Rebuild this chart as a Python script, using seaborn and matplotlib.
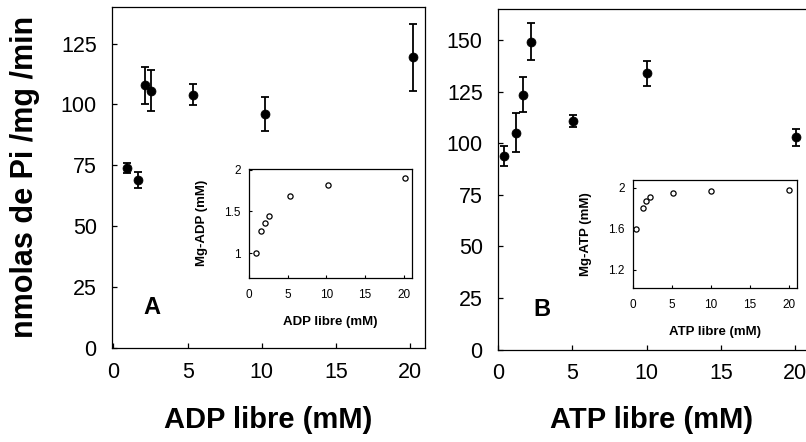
import matplotlib
matplotlib.use("Agg")
import matplotlib.pyplot as plt
import seaborn as sns
import pandas as pd

# ---- data ----
adp_x = [0.9, 1.68, 2.12, 2.54, 5.34, 10.19, 20.2]
adp_y = [73.9, 68.9, 107.8, 105.7, 104.0, 95.9, 119.4]
adp_err = [2.2, 3.2, 7.5, 8.3, 4.2, 7.0, 13.8]

atp_x = [0.42, 1.21, 1.66, 2.22, 5.07, 10.05, 20.07]
atp_y = [93.7, 105.0, 123.4, 149.2, 110.9, 133.8, 102.8]
atp_err = [4.8, 9.5, 8.5, 9.0, 2.9, 5.9, 4.2]

ins_adp_x = [0.94, 1.59, 2.02, 2.54, 5.34, 10.17, 20.2]
ins_adp_y = [1.00, 1.27, 1.36, 1.445, 1.68, 1.82, 1.90]

ins_atp_x = [0.39, 1.25, 1.67, 2.19, 5.1, 10.04, 20.0]
ins_atp_y = [1.60, 1.80, 1.875, 1.905, 1.95, 1.97, 1.98]

main_xticks = [0, 5, 10, 15, 20]
adp_yticks = [0, 25, 50, 75, 100, 125]
atp_yticks = [0, 25, 50, 75, 100, 125, 150]
ins_adp_yticks = [1, 1.5, 2]
ins_adp_yticklabels = ["1", "1.5", "2"]
ins_atp_yticks = [1.2, 1.6, 2.0]
ins_atp_yticklabels = ["1.2", "1.6", "2"]

ylabel_main = "nmolas de Pi /mg /min"
xlabel_a = "ADP libre (mM)"
xlabel_b = "ATP libre (mM)"
ins_ylabel_a = "Mg-ADP (mM)"
ins_ylabel_b = "Mg-ATP (mM)"
panel_a = "A"
panel_b = "B"

sns.set_style("ticks")
plt.rcParams["font.family"] = ["Liberation Sans", "DejaVu Sans"]
plt.rcParams["axes.linewidth"] = 0.9
plt.rcParams["text.color"] = "black"
plt.rcParams["axes.labelcolor"] = "black"
plt.rcParams["xtick.color"] = "black"
plt.rcParams["ytick.color"] = "black"

W, H = 806, 442
fig = plt.figure(figsize=(W / 100, H / 100), dpi=100)


def rect(l, r, t, b):
    return [l / W, 1 - b / H, (r - l) / W, (b - t) / H]


axA = fig.add_axes(rect(112, 425, 7, 348))
axB = fig.add_axes(rect(498, 807, 9, 349.5))
inA = fig.add_axes(rect(249, 412, 169, 278))
inB = fig.add_axes(rect(633, 797, 179.5, 288.3))


def main_panel(ax, x, y, err, xlim, ylim, yticks):
    df = pd.DataFrame({"x": x, "y": y})
    ax.errorbar(x, y, yerr=err, fmt="none", ecolor="black", elinewidth=1.3,
                capsize=3.2, capthick=1.3, zorder=2)
    sns.scatterplot(data=df, x="x", y="y", ax=ax, color="black", s=42,
                    edgecolor="black", linewidth=0.5, zorder=3, legend=False)
    ax.set_xlim(*xlim)
    ax.set_ylim(*ylim)
    ax.set_xticks(main_xticks)
    ax.set_yticks(yticks)
    ax.tick_params(direction="in", length=3.5, width=0.9, labelsize=15.5, pad=11,
                   colors="black")
    ax.tick_params(axis="x", pad=10)
    ax.set_xlabel("")
    ax.set_ylabel("")
    for s in ax.spines.values():
        s.set_color("black")


main_panel(axA, adp_x, adp_y, adp_err, (-0.1, 21.0), (0, 140), adp_yticks)
main_panel(axB, atp_x, atp_y, atp_err, (0, 20.8), (0, 165), atp_yticks)


def inset_panel(ax, x, y, xlim, ylim, yticks, yticklabels):
    df = pd.DataFrame({"x": x, "y": y})
    sns.scatterplot(data=df, x="x", y="y", ax=ax, s=14, facecolor="white",
                    edgecolor="black", linewidth=0.9, legend=False)
    ax.set_xlim(*xlim)
    ax.set_ylim(*ylim)
    ax.set_xticks(main_xticks)
    ax.set_yticks(yticks)
    ax.set_yticklabels(yticklabels)
    ax.tick_params(direction="in", length=2.5, width=0.8, labelsize=8.5,
                   colors="black")
    ax.tick_params(axis="y", pad=6)
    ax.tick_params(axis="x", pad=8)
    ax.set_xlabel("")
    ax.set_ylabel("")
    for s in ax.spines.values():
        s.set_color("black")
        s.set_linewidth(0.9)


inset_panel(inA, ins_adp_x, ins_adp_y, (0, 21.1), (0.70, 2.01),
            ins_adp_yticks, ins_adp_yticklabels)
inset_panel(inB, ins_atp_x, ins_atp_y, (0, 21.07), (1.02, 2.08),
            ins_atp_yticks, ins_atp_yticklabels)


def ftext(x, y, s, **kw):
    fig.text(x / W, 1 - y / H, s, color="black", **kw)


ftext(25, 177, ylabel_main, rotation=90, ha="center", va="center",
      fontsize=22, fontweight="bold")
ftext(268, 420, xlabel_a, ha="center", va="center", fontsize=21,
      fontweight="bold")
ftext(652, 420, xlabel_b, ha="center", va="center", fontsize=21,
      fontweight="bold")
ftext(330, 322, xlabel_a, ha="center", va="center", fontsize=9.5,
      fontweight="bold")
ftext(715, 332, xlabel_b, ha="center", va="center", fontsize=9.5,
      fontweight="bold")
ftext(202, 223, ins_ylabel_a, rotation=90, ha="center", va="center",
      fontsize=9.5, fontweight="bold")
ftext(586, 234, ins_ylabel_b, rotation=90, ha="center", va="center",
      fontsize=9.5, fontweight="bold")
ftext(152, 308, panel_a, ha="center", va="center", fontsize=17,
      fontweight="bold")
ftext(542, 310, panel_b, ha="center", va="center", fontsize=17,
      fontweight="bold")

fig.savefig("out.png", dpi=100)
